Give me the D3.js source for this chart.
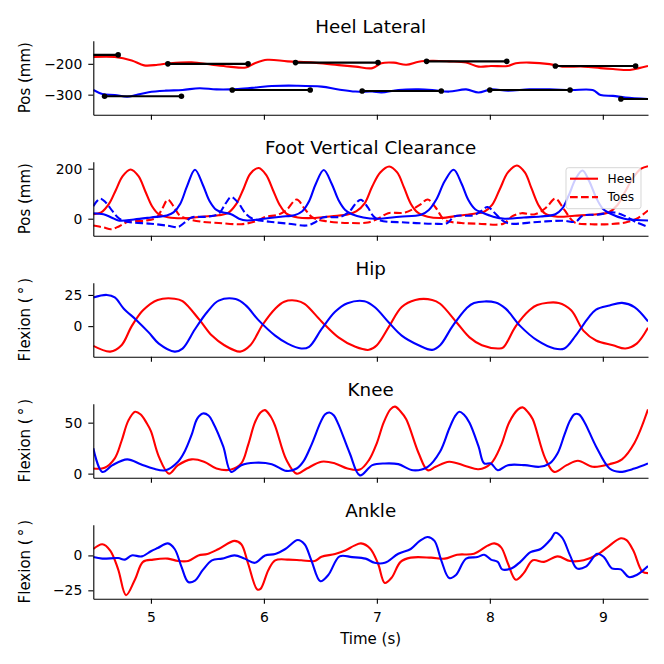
<!DOCTYPE html>
<html>
<head>
<meta charset="utf-8">
<script src="https://cdn.jsdelivr.net/npm/d3@7"></script>
<style>
  body { margin: 0; background: #fff; }
  svg { font-family: "DejaVu Sans", sans-serif; }
</style>
</head>
<body>
<svg width="664" height="664"></svg>
<script>
// values, as [time (s), value] pairs
const timeTicks = [5, 6, 7, 8, 9];

// heel lateral position (mm)
const lateralRight = [[4.49,-178],[4.68,-178],[4.83,-189],[4.94,-205],[5.06,-203],[5.17,-198],[5.36,-195],[5.54,-203],[5.69,-209],[5.84,-212],[5.92,-198],[6.03,-187],[6.21,-192],[6.44,-196],[6.63,-203],[6.81,-209],[6.96,-214],[7.04,-198],[7.15,-196],[7.26,-203],[7.37,-193],[7.49,-190],[7.64,-192],[7.79,-196],[7.9,-209],[8.01,-207],[8.16,-207],[8.23,-198],[8.35,-196],[8.53,-201],[8.64,-209],[8.83,-209],[8.98,-214],[9.09,-217],[9.24,-220],[9.32,-214],[9.4,-207]];
const lateralLeft = [[4.49,-285],[4.57,-298],[4.68,-301],[4.79,-307],[4.87,-301],[4.98,-292],[5.13,-287],[5.28,-285],[5.43,-279],[5.58,-283],[5.77,-282],[5.95,-276],[6.07,-272],[6.29,-271],[6.51,-274],[6.66,-283],[6.81,-290],[6.96,-290],[7.04,-293],[7.19,-285],[7.37,-283],[7.49,-285],[7.64,-290],[7.79,-283],[7.9,-293],[8.01,-283],[8.16,-287],[8.35,-283],[8.53,-283],[8.72,-285],[8.91,-285],[8.98,-301],[9.09,-304],[9.2,-309],[9.4,-314]];

// stance segments (black bars with end dots)
const stanceRightStart = [4.0, 5.15, 6.28, 7.44, 8.58];
const stanceRightEnd = [4.71, 5.86, 7.01, 8.15, 9.29];
const stanceRightLevel = [-171, -200, -196, -192, -207];
const stanceLeftStart = [4.59, 5.72, 6.87, 8.0, 9.16];
const stanceLeftEnd = [5.27, 6.41, 7.57, 8.71, 9.87];
const stanceLeftLevel = [-305, -285, -288, -285, -314];

// foot vertical clearance (mm)
const heelRight = [[4.49,18],[4.56,25],[4.63,60],[4.69,115],[4.75,170],[4.82,197],[4.89,170],[4.95,110],[5.01,50],[5.07,18],[5.15,6],[5.3,2],[5.45,8],[5.6,14],[5.68,22],[5.75,55],[5.82,120],[5.88,180],[5.955,203],[6.02,175],[6.08,115],[6.14,55],[6.2,20],[6.3,5],[6.45,3],[6.6,10],[6.75,18],[6.82,30],[6.89,60],[6.96,130],[7.03,185],[7.11,209],[7.18,185],[7.24,125],[7.3,60],[7.36,25],[7.45,8],[7.57,3],[7.72,12],[7.86,20],[7.95,28],[8.02,55],[8.09,120],[8.16,185],[8.24,213],[8.31,185],[8.37,120],[8.43,55],[8.49,20],[8.6,8],[8.75,12],[8.95,18],[9.05,25],[9.13,55],[9.2,110],[9.27,165],[9.34,200],[9.4,210]];
const toesRight = [[4.49,-27],[4.58,-35],[4.65,-42],[4.72,-30],[4.8,-12],[4.95,-8],[5.05,5],[5.1,40],[5.15,76],[5.2,50],[5.25,15],[5.32,0],[5.45,-12],[5.6,-17],[5.8,-22],[5.93,-10],[6.02,8],[6.12,15],[6.2,35],[6.29,77],[6.36,40],[6.43,5],[6.55,-10],[6.75,-17],[6.92,-15],[7.03,5],[7.1,22],[7.25,25],[7.38,55],[7.45,77],[7.52,45],[7.6,-5],[7.75,-17],[7.9,-20],[8.12,-20],[8.2,10],[8.28,22],[8.4,18],[8.5,45],[8.58,80],[8.66,35],[8.75,-15],[8.9,-22],[9.05,-22],[9.2,-15],[9.3,0],[9.4,33]];
const heelLeft = [[4.49,22],[4.58,18],[4.65,5],[4.72,-8],[4.85,-3],[5.0,5],[5.14,13],[5.2,25],[5.26,60],[5.32,130],[5.39,196],[5.46,135],[5.52,70],[5.58,35],[5.64,25],[5.71,18],[5.78,0],[5.85,-7],[6.0,0],[6.15,8],[6.27,14],[6.34,30],[6.4,70],[6.46,140],[6.53,195],[6.6,140],[6.66,75],[6.72,35],[6.78,18],[6.88,5],[7.0,0],[7.2,8],[7.39,16],[7.46,35],[7.53,80],[7.6,150],[7.68,196],[7.75,140],[7.81,75],[7.87,38],[7.93,25],[8.03,8],[8.13,0],[8.3,5],[8.45,9],[8.58,18],[8.64,40],[8.7,95],[8.76,160],[8.82,193],[8.88,150],[8.94,85],[9.0,40],[9.06,22],[9.19,0],[9.3,-5],[9.4,-7]];
const toesLeft = [[4.49,50],[4.55,80],[4.6,65],[4.66,30],[4.72,0],[4.8,-13],[5.0,-20],[5.15,-28],[5.24,-33],[5.3,-15],[5.36,5],[5.5,8],[5.6,20],[5.66,60],[5.71,87],[5.77,65],[5.84,20],[5.9,0],[6.05,-12],[6.22,-20],[6.38,-27],[6.45,-15],[6.52,5],[6.68,8],[6.76,30],[6.82,65],[6.86,76],[6.92,45],[6.97,10],[7.03,-7],[7.25,-15],[7.5,-20],[7.62,-18],[7.69,10],[7.85,13],[7.92,30],[7.98,47],[8.05,20],[8.12,-10],[8.18,-20],[8.42,-13],[8.65,-8],[8.76,-12],[8.82,12],[8.95,16],[9.1,25],[9.2,10],[9.3,-15],[9.4,-33]];

// joint flexion (deg)
const hipRight = [[4.49,-15.8],[4.64,-20.4],[4.74,-15.3],[4.83,0],[4.93,12.7],[5.06,21],[5.21,22],[5.28,20],[5.43,5],[5.54,-7.6],[5.65,-15.3],[5.79,-20.4],[5.88,-15.3],[5.99,1.3],[6.1,14],[6.18,19.6],[6.29,20.4],[6.36,17.9],[6.51,3.8],[6.66,-9],[6.81,-16.6],[6.93,-19],[7.0,-15.3],[7.11,0],[7.22,15.3],[7.34,21],[7.49,21],[7.56,17.9],[7.71,2.5],[7.82,-9],[7.93,-15.3],[8.08,-17.9],[8.12,-17],[8.23,0],[8.35,12.7],[8.42,17],[8.61,18.6],[8.72,12.7],[8.83,-3.8],[8.94,-11.5],[9.09,-15.3],[9.2,-17.9],[9.3,-14],[9.4,-1.3]];
const hipLeft = [[4.49,23],[4.61,25],[4.68,23],[4.76,14],[4.87,5],[4.98,-5],[5.07,-14],[5.21,-20.4],[5.28,-18],[5.39,-2.5],[5.5,11.5],[5.6,20.4],[5.75,21.7],[5.84,16.6],[5.95,5],[6.1,-7.6],[6.21,-14],[6.33,-17.9],[6.4,-16.6],[6.51,-2.5],[6.63,11.5],[6.74,18.4],[6.89,20],[6.98,15.3],[7.11,2.5],[7.22,-7.6],[7.37,-15.3],[7.49,-19],[7.56,-15.3],[7.67,0],[7.79,14],[7.86,18.6],[8.05,19],[8.14,14],[8.27,0],[8.42,-11.5],[8.57,-17.9],[8.66,-17.9],[8.76,-7.6],[8.87,6.4],[8.94,13.3],[9.06,16.6],[9.17,18.6],[9.28,15.3],[9.4,3.8]];
const kneeRight = [[4.49,5],[4.59,5.7],[4.68,15],[4.74,32],[4.8,52],[4.86,60.7],[4.91,58],[4.96,50],[5.0,41.7],[5.07,16.7],[5.16,0],[5.24,8.3],[5.36,14],[5.47,11.7],[5.58,5],[5.71,4],[5.8,10],[5.86,28],[5.92,50],[5.97,60],[6.01,62.3],[6.06,56],[6.1,46.7],[6.2,13.3],[6.29,0],[6.38,5],[6.51,11.7],[6.63,10],[6.74,5],[6.85,4],[6.93,13.3],[7.0,30],[7.06,50],[7.12,63],[7.16,65.7],[7.21,61],[7.26,53.3],[7.37,20],[7.45,3.3],[7.52,6.7],[7.64,11.7],[7.79,7.3],[7.9,4.3],[8.01,10],[8.1,28],[8.17,50],[8.25,63],[8.29,65],[8.34,60],[8.38,53.3],[8.49,15],[8.57,1.7],[8.68,8.3],[8.78,12.7],[8.91,6.7],[9.06,9.3],[9.17,14],[9.28,30],[9.4,63]];
const kneeLeft = [[4.49,25],[4.57,1.7],[4.66,8.3],[4.79,14],[4.91,9.3],[5.02,5],[5.13,3.3],[5.24,11.7],[5.3,22],[5.36,38],[5.41,54],[5.46,59],[5.51,57],[5.55,50],[5.64,26.7],[5.71,1.7],[5.8,8.3],[5.92,10.7],[6.07,9.3],[6.2,2.7],[6.29,5],[6.35,12],[6.42,28],[6.5,50],[6.54,58],[6.58,60],[6.62,57],[6.66,48.3],[6.76,20],[6.85,-1.7],[6.96,8.3],[7.07,10],[7.19,9.3],[7.32,3.3],[7.45,6.7],[7.56,21.7],[7.64,44],[7.69,56],[7.73,60.7],[7.77,58],[7.82,50],[7.9,26.7],[7.95,10],[8.01,10],[8.07,3.3],[8.16,8.3],[8.31,8.3],[8.44,6.7],[8.53,10],[8.6,20],[8.66,38],[8.71,52],[8.75,58.3],[8.79,58],[8.84,50],[8.94,26.7],[9.06,5],[9.15,1.7],[9.28,5],[9.4,10]];
const ankleRight = [[4.49,4.6],[4.57,8],[4.64,3.5],[4.71,-10],[4.78,-28.5],[4.86,-17],[4.93,-4.6],[5.02,-3],[5.15,-2.3],[5.24,-4],[5.33,-4],[5.42,0],[5.5,1],[5.6,4.6],[5.74,10.4],[5.8,8],[5.86,-5.8],[5.94,-24.3],[5.97,-24],[6.04,-10.4],[6.1,-3.5],[6.22,-3],[6.33,-3.5],[6.45,-4],[6.51,-1],[6.63,1],[6.72,3.5],[6.8,7],[6.86,8.6],[6.94,5],[7.01,-5.8],[7.07,-19.7],[7.13,-16],[7.21,-4.6],[7.3,-1.6],[7.48,-1.6],[7.6,-2.3],[7.71,0.5],[7.86,1.2],[7.98,7],[8.04,8.6],[8.1,5.8],[8.16,-5.8],[8.23,-17.4],[8.3,-12.7],[8.38,-3.5],[8.48,-4.6],[8.6,-0.7],[8.71,-4],[8.83,-3.5],[8.95,0.5],[9.04,5.8],[9.16,12.3],[9.21,11],[9.27,3.5],[9.35,-11.6],[9.4,-12.7]];
const ankleLeft = [[4.49,-1.2],[4.57,-2.3],[4.71,-1.9],[4.77,-3],[4.83,0],[4.92,-0.7],[5.0,3],[5.06,5.3],[5.15,8.6],[5.21,4.6],[5.27,-8],[5.33,-19],[5.39,-18],[5.46,-10.4],[5.54,-3.5],[5.63,-2.3],[5.74,0],[5.83,-2.3],[5.92,-5.3],[6.01,0],[6.1,1],[6.19,4.6],[6.3,11],[6.36,8],[6.42,-3.5],[6.5,-18.5],[6.57,-14],[6.67,-0.7],[6.78,-1.2],[6.9,-2.3],[6.98,-5.3],[7.07,-5.3],[7.19,1.2],[7.3,4.6],[7.38,10.4],[7.45,13.2],[7.51,10.4],[7.57,-3.5],[7.64,-16.2],[7.7,-14],[7.79,-2.3],[7.89,-1.2],[7.95,0.5],[8.01,-3],[8.07,-4.6],[8.11,-10],[8.19,-9.3],[8.27,-4.6],[8.36,2.3],[8.45,4.6],[8.54,11.6],[8.58,16.2],[8.64,12.7],[8.71,0],[8.77,-9.3],[8.85,-8],[8.95,1.2],[9.01,-1.2],[9.08,-9.3],[9.16,-10],[9.23,-15.5],[9.3,-14],[9.4,-7.6]];

const flexLabel = "Flexion (\u2009\u00b0\u2009)";
const panels = [
  { title: "Heel Lateral", ylabel: "Pos (mm)", ylim: [-365, -125], yticks: [-300, -200],
    lines: [{ d: lateralRight, c: "red" }, { d: lateralLeft, c: "blue" }] },
  { title: "Foot Vertical Clearance", ylabel: "Pos (mm)", ylim: [-68, 228], yticks: [0, 200],
    lines: [{ d: heelRight, c: "red" }, { d: toesRight, c: "red", dash: true },
            { d: heelLeft, c: "blue" }, { d: toesLeft, c: "blue", dash: true }] },
  { title: "Hip", ylabel: flexLabel, ylim: [-24.5, 34.8], yticks: [0, 25],
    lines: [{ d: hipRight, c: "red" }, { d: hipLeft, c: "blue" }] },
  { title: "Knee", ylabel: flexLabel, ylim: [-4, 68.6], yticks: [0, 50],
    lines: [{ d: kneeRight, c: "red" }, { d: kneeLeft, c: "blue" }] },
  { title: "Ankle", ylabel: flexLabel, ylim: [-31, 22], yticks: [-25, 0],
    lines: [{ d: ankleRight, c: "red" }, { d: ankleLeft, c: "blue" }] }
];

const svg = d3.select("svg");
const left = 93.3, right = 648, firstTop = 40.7, step = 121, h = 74;
const x = d3.scaleLinear().domain([4.49, 9.4]).range([left, right]);

panels.forEach((p, i) => {
  const top = firstTop + i * step;
  const y = d3.scaleLinear().domain(p.ylim).range([top + h, top]);
  const g = svg.append("g");

  g.append("clipPath").attr("id", "clip" + i)
    .append("rect").attr("x", left).attr("y", top).attr("width", right - left).attr("height", h);
  const plot = g.append("g").attr("clip-path", `url(#clip${i})`);

  const line = d3.line().x(d => x(d[0])).y(d => y(d[1])).curve(d3.curveCatmullRom.alpha(0.5));
  p.lines.forEach(l => {
    plot.append("path")
      .attr("d", line(l.d))
      .attr("fill", "none")
      .attr("stroke", l.c)
      .attr("stroke-width", 2.1)
      .attr("stroke-linejoin", "round")
      .attr("stroke-dasharray", l.dash ? "7.7,3.3" : null);
  });

  if (i === 0) {
    const segs = [];
    stanceRightStart.forEach((s, k) => segs.push([s, stanceRightEnd[k], stanceRightLevel[k]]));
    stanceLeftStart.forEach((s, k) => segs.push([s, stanceLeftEnd[k], stanceLeftLevel[k]]));
    segs.forEach(s => {
      plot.append("line")
        .attr("x1", x(s[0])).attr("x2", x(s[1]))
        .attr("y1", y(s[2])).attr("y2", y(s[2]))
        .attr("stroke", "black").attr("stroke-width", 2.1);
      plot.selectAll(null).data([s[0], s[1]]).join("circle")
        .attr("cx", d => x(d)).attr("cy", y(s[2])).attr("r", 2.8).attr("fill", "black");
    });
  }

  // axes
  const yAxis = g.append("g").attr("transform", `translate(${left},0)`)
    .call(d3.axisLeft(y).tickValues(p.yticks).tickSize(5).tickSizeOuter(0).tickPadding(6));
  const xAxis = g.append("g").attr("transform", `translate(0,${top + h})`)
    .call(d3.axisBottom(x).tickValues(timeTicks).tickFormat(d3.format("d"))
      .tickSize(5).tickSizeOuter(0).tickPadding(8));
  if (i < panels.length - 1) xAxis.selectAll(".tick text").remove();
  [yAxis, xAxis].forEach(a => {
    a.attr("font-family", "DejaVu Sans").attr("font-size", 13.9);
    a.select(".domain").attr("stroke-width", 1.1);
    a.selectAll(".tick line").attr("stroke-width", 1.1);
  });

  g.append("text")
    .attr("x", (left + right) / 2).attr("y", top - 8)
    .attr("text-anchor", "middle").attr("font-size", 18.3)
    .text(p.title);

  g.append("text")
    .attr("transform", `translate(29.5,${top + h / 2}) rotate(-90)`)
    .attr("text-anchor", "middle").attr("font-size", 15)
    .text(p.ylabel);

  if (i === 1) {
    const lg = g.append("g");
    lg.append("rect")
      .attr("x", 566).attr("y", top + 6).attr("width", 75).attr("height", 41)
      .attr("rx", 2.5)
      .attr("fill", "white").attr("fill-opacity", 0.8)
      .attr("stroke", "#cccccc").attr("stroke-opacity", 0.8).attr("stroke-width", 1);
    [{ t: "Heel", dash: false, dy: 17 }, { t: "Toes", dash: true, dy: 35.4 }].forEach(e => {
      lg.append("line")
        .attr("x1", 570).attr("x2", 598)
        .attr("y1", top + e.dy).attr("y2", top + e.dy)
        .attr("stroke", "red").attr("stroke-width", 2.1)
        .attr("stroke-dasharray", e.dash ? "7.7,3.3" : null);
      lg.append("text")
        .attr("x", 607.5).attr("y", top + e.dy).attr("dy", "0.36em")
        .attr("font-size", 12.2)
        .text(e.t);
    });
  }
});

svg.append("text")
  .attr("x", (left + right) / 2).attr("y", 644)
  .attr("text-anchor", "middle").attr("font-size", 15)
  .text("Time (s)");
</script>
</body>
</html>
